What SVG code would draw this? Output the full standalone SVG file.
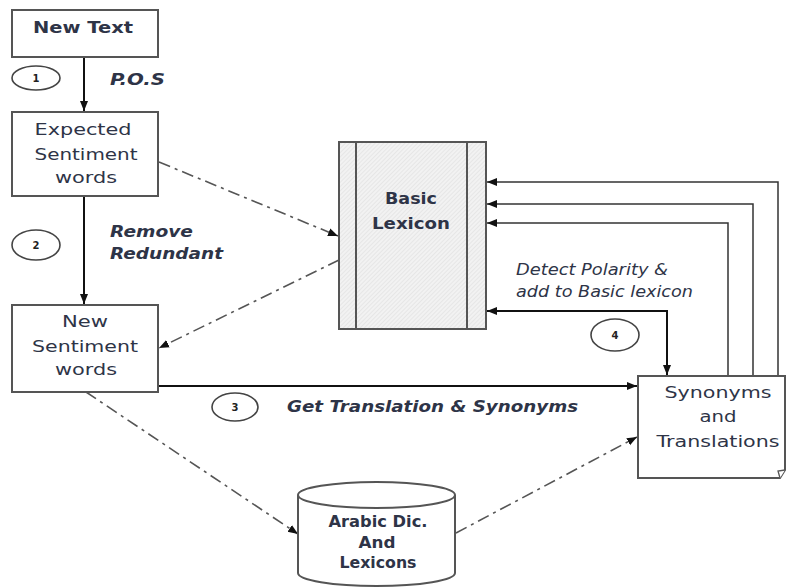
<svg xmlns="http://www.w3.org/2000/svg" width="791" height="588" viewBox="0 0 791 588">
<defs>
<style>
.box{fill:#fff;stroke:#555;stroke-width:2}
.t{font-family:"DejaVu Sans",Verdana,sans-serif;font-size:16px;fill:#2e3447}
.b{font-weight:bold}
.i{font-style:italic}
.n{font-family:"DejaVu Sans",sans-serif;font-size:10px;font-weight:bold;fill:#222;text-anchor:middle}
.solid{fill:none;stroke:#111;stroke-width:2}
.thin{fill:none;stroke:#333;stroke-width:1.5}
.dd{fill:none;stroke:#555;stroke-width:1.6;stroke-dasharray:12 5 3 5}
.circ{fill:#fff;stroke:#444;stroke-width:1.6}
</style>
<marker id="ahs" viewBox="0 0 10 10" refX="10" refY="5" markerWidth="10" markerHeight="10" orient="auto-start-reverse" markerUnits="userSpaceOnUse">
<path d="M0,1 L10,5 L0,9 z" fill="#111"/>
</marker>
<pattern id="hatch" width="3" height="3" patternUnits="userSpaceOnUse" patternTransform="rotate(45)">
<rect width="3" height="3" fill="#f2f2f2"/>
<line x1="0" y1="0" x2="0" y2="3" stroke="#d6d6d6" stroke-width="0.8"/>
</pattern>
</defs>

<g id="connectors">
<line class="solid" x1="84" y1="57" x2="84" y2="111" marker-end="url(#ahs)"/>
<line class="solid" x1="84" y1="196" x2="84" y2="304" marker-end="url(#ahs)"/>
<line class="solid" x1="158" y1="386" x2="637" y2="386" marker-end="url(#ahs)"/>
<polyline class="solid" points="487,311 667,311 667,375" marker-start="url(#ahs)" marker-end="url(#ahs)"/>
<polyline class="thin" points="778,376 778,182 487,182" marker-end="url(#ahs)"/>
<polyline class="thin" points="753,376 753,204 487,204" marker-end="url(#ahs)"/>
<polyline class="thin" points="728,376 728,223 487,223" marker-end="url(#ahs)"/>
<line class="dd" x1="159" y1="162" x2="338" y2="236" marker-end="url(#ahs)"/>
<line class="dd" x1="339" y1="260" x2="159" y2="348" marker-end="url(#ahs)"/>
<line class="dd" x1="86" y1="392" x2="298" y2="534" marker-end="url(#ahs)"/>
<line class="dd" x1="456" y1="533" x2="637" y2="437" marker-end="url(#ahs)"/>
</g>

<g id="new-text">
<rect class="box" x="12" y="10" width="146" height="47"/>
<text class="t b" x="83" y="33" text-anchor="middle" textLength="100" lengthAdjust="spacingAndGlyphs">New Text</text>
</g>

<g id="expected-sentiment">
<rect class="box" x="12" y="112" width="146" height="84"/>
<text class="t" x="83" y="135" text-anchor="middle" textLength="97" lengthAdjust="spacingAndGlyphs">Expected</text>
<text class="t" x="86" y="160" text-anchor="middle" textLength="103" lengthAdjust="spacingAndGlyphs">Sentiment</text>
<text class="t" x="86" y="183" text-anchor="middle" textLength="62" lengthAdjust="spacingAndGlyphs">words</text>
</g>

<g id="new-sentiment">
<rect class="box" x="12" y="305" width="146" height="87"/>
<text class="t" x="85" y="327" text-anchor="middle" textLength="46" lengthAdjust="spacingAndGlyphs">New</text>
<text class="t" x="85" y="352" text-anchor="middle" textLength="106" lengthAdjust="spacingAndGlyphs">Sentiment</text>
<text class="t" x="86" y="375" text-anchor="middle" textLength="62" lengthAdjust="spacingAndGlyphs">words</text>
</g>

<g id="basic-lexicon">
<rect x="339" y="142" width="147" height="187" fill="url(#hatch)" stroke="#555" stroke-width="2"/>
<line x1="356" y1="142" x2="356" y2="329" stroke="#555" stroke-width="2"/>
<line x1="467" y1="142" x2="467" y2="329" stroke="#555" stroke-width="2"/>
<text class="t b" x="411" y="204" text-anchor="middle" textLength="52" lengthAdjust="spacingAndGlyphs">Basic</text>
<text class="t b" x="411" y="229" text-anchor="middle" textLength="78" lengthAdjust="spacingAndGlyphs">Lexicon</text>
</g>

<g id="synonyms-translations">
<path class="box" d="M638,376 L785,376 L785,470 L780,478 L638,478 Z"/>
<path d="M785,470 L778,471 L780,478" fill="#fff" stroke="#555" stroke-width="1.3"/>
<text class="t" x="718" y="398" text-anchor="middle" textLength="107" lengthAdjust="spacingAndGlyphs">Synonyms</text>
<text class="t" x="718" y="422" text-anchor="middle" textLength="37" lengthAdjust="spacingAndGlyphs">and</text>
<text class="t" x="718" y="447" text-anchor="middle" textLength="123" lengthAdjust="spacingAndGlyphs">Translations</text>
</g>

<g id="arabic-dic">
<path class="box" d="M298,495 L298,573 A78.5,13 0 0 0 455,573 L455,495"/>
<ellipse class="box" cx="376.5" cy="495" rx="78.5" ry="13"/>
<text class="t b" x="378" y="527" text-anchor="middle" font-size="14" textLength="99" lengthAdjust="spacingAndGlyphs">Arabic Dic.</text>
<text class="t b" x="377" y="548" text-anchor="middle" font-size="14" textLength="37" lengthAdjust="spacingAndGlyphs">And</text>
<text class="t b" x="378" y="568" text-anchor="middle" font-size="14" textLength="77" lengthAdjust="spacingAndGlyphs">Lexicons</text>
</g>

<g id="labels">
<ellipse class="circ" cx="36" cy="78" rx="24" ry="12"/>
<text class="n" x="36" y="82">1</text>
<ellipse class="circ" cx="36" cy="245" rx="24" ry="15"/>
<text class="n" x="36" y="249">2</text>
<ellipse class="circ" cx="235" cy="407" rx="23" ry="14"/>
<text class="n" x="235" y="411">3</text>
<ellipse class="circ" cx="615" cy="335" rx="24" ry="16"/>
<text class="n" x="615" y="339">4</text>
<text class="t b i" x="110" y="85" textLength="55" lengthAdjust="spacingAndGlyphs">P.O.S</text>
<text class="t b i" x="110" y="237" textLength="83" lengthAdjust="spacingAndGlyphs">Remove</text>
<text class="t b i" x="110" y="259" textLength="113" lengthAdjust="spacingAndGlyphs">Redundant</text>
<text class="t b i" x="287" y="412" textLength="291" lengthAdjust="spacingAndGlyphs">Get Translation &amp; Synonyms</text>
<text class="t i" x="516" y="275" font-size="14" fill="#33406a" textLength="152" lengthAdjust="spacingAndGlyphs">Detect Polarity &amp;</text>
<text class="t i" x="516" y="297" font-size="14" fill="#33406a" textLength="177" lengthAdjust="spacingAndGlyphs">add to Basic lexicon</text>
</g>
</svg>
